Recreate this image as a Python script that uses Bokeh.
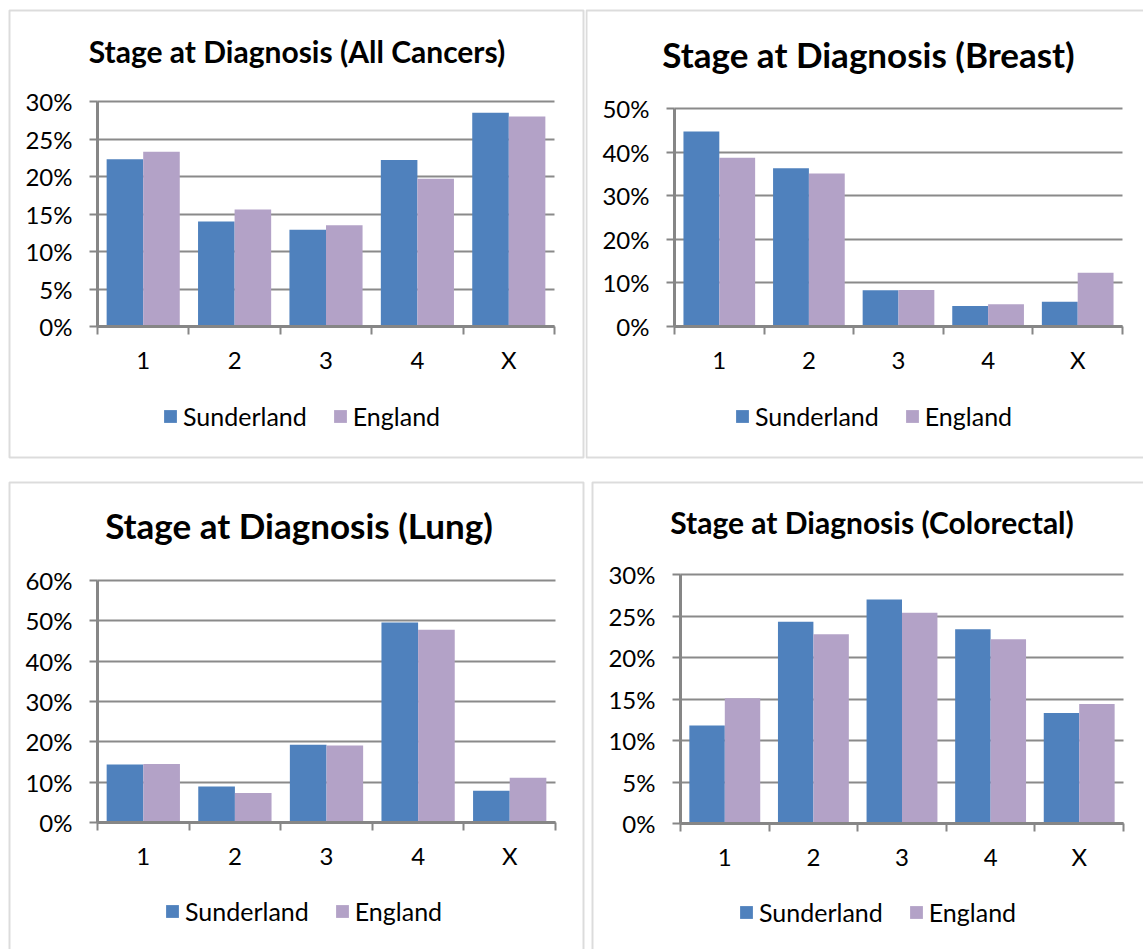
from bokeh.plotting import figure
from bokeh.layouts import column, row
from bokeh.models import (ColumnDataSource, Range1d, FixedTicker, PrintfTickFormatter,
                          Label, BoxAnnotation, Legend, LegendItem)
from bokeh.transform import dodge
from bokeh.embed import file_html
from bokeh.resources import INLINE

# ---- data (percent of diagnoses by stage) ----
stages = ["1", "2", "3", "4", "X"]
series_names = ["Sunderland", "England"]

all_sunderland = [22.3, 14.0, 12.9, 22.2, 28.5]
all_england = [23.3, 15.6, 13.5, 19.7, 28.0]

breast_sunderland = [44.7, 36.3, 8.3, 4.7, 5.7]
breast_england = [38.7, 35.1, 8.4, 5.1, 12.3]

lung_sunderland = [14.4, 8.9, 19.3, 49.6, 7.9]
lung_england = [14.5, 7.3, 19.1, 47.8, 11.1]

colorectal_sunderland = [11.8, 24.3, 27.0, 23.4, 13.3]
colorectal_england = [15.1, 22.8, 25.4, 22.2, 14.4]

titles = ["Stage at Diagnosis (All Cancers)", "Stage at Diagnosis (Breast)",
          "Stage at Diagnosis (Lung)", "Stage at Diagnosis (Colorectal)"]
y_max = [30, 50, 60, 30]
y_step = [5, 10, 10, 5]

# ---- styling ----
BLUE = "#4F81BD"
LAVENDER = "#B3A2C7"
AXIS = "#868686"
GRID = "#8a8a8a"
BORDER = "#8c8c8c"
FONT = "Lato"
LEGEND_H = 30


def make_panel(title, sund, eng, ymax, ystep, L):
    """One chart; the plot canvas is the whole chart box, axes sit at fixed data locations."""
    W, H = L["size"]
    fl, fr, ft, fb = L["frame"]          # plot-area box in canvas pixels
    n = len(stages)
    kx = (fr - fl) / n                    # pixels per category
    ky = (fb - ft) / ymax                 # pixels per percent
    p = figure(width=W, height=H, title=None,
               x_range=Range1d(-fl / kx, (W - fl) / kx),
               y_range=Range1d(-(H - fb) / ky, fb / ky),
               output_backend="svg", toolbar_location=None,
               min_border=0)
    p.outline_line_color = None
    p.background_fill_color = "white"
    p.border_fill_color = "white"

    centers = [i + 0.5 for i in range(n)]
    src = ColumnDataSource(dict(x=centers, sund=sund, eng=eng))
    r1 = p.vbar(x=dodge("x", -0.2), top="sund", width=0.4, source=src,
                fill_color=BLUE, line_color=None)
    r2 = p.vbar(x=dodge("x", 0.2), top="eng", width=0.4, source=src,
                fill_color=LAVENDER, line_color=None)

    # value axis
    yt = FixedTicker(ticks=list(range(0, ymax + 1, ystep)), minor_ticks=[])
    ya = p.yaxis[0]
    ya.fixed_location = 0
    ya.bounds = (0, ymax)
    ya.ticker = yt
    ya.formatter = PrintfTickFormatter(format="%d%%")
    ya.axis_line_color = AXIS
    ya.axis_line_width = 3
    ya.major_tick_line_color = AXIS
    ya.major_tick_line_width = 2
    ya.major_tick_out = 8
    ya.major_tick_in = 0
    ya.minor_tick_line_color = None
    ya.major_label_standoff = 17
    ya.major_label_text_font = FONT
    ya.major_label_text_font_size = "24px"
    ya.major_label_text_color = "black"

    # stage axis: labels at group centres, tick marks between groups
    xt = FixedTicker(ticks=centers, minor_ticks=list(range(n + 1)))
    xa = p.xaxis[0]
    xa.fixed_location = 0
    xa.bounds = (0, n)
    xa.ticker = xt
    xa.major_label_overrides = {c: s for c, s in zip(centers, stages)}
    xa.axis_line_color = AXIS
    xa.axis_line_width = 3
    xa.major_tick_out = 0
    xa.major_tick_in = 0
    xa.major_tick_line_color = None
    xa.minor_tick_line_color = AXIS
    xa.minor_tick_line_width = 2
    xa.minor_tick_out = 8
    xa.minor_tick_in = 0
    xa.major_label_standoff = 10
    xa.major_label_text_font = FONT
    xa.major_label_text_font_size = "24px"
    xa.major_label_text_color = "black"

    p.xgrid.visible = False
    p.ygrid.ticker = yt
    p.ygrid.bounds = (0, ymax)
    p.ygrid.cross_bounds = (0, n)
    p.ygrid.grid_line_color = GRID
    p.ygrid.grid_line_width = 2

    # chart title
    tx, ty = L["title_xy"]
    p.add_layout(Label(x=tx, y=H - ty, x_units="screen", y_units="screen",
                       text=title, text_align="center", text_baseline="middle",
                       text_font=FONT, text_font_style="bold",
                       text_font_size=L["title_size"], text_color="black"))

    # legend under the stage axis
    lx, lcy = L["legend_xy"]
    legend = Legend(items=[LegendItem(label=series_names[0], renderers=[r1]),
                           LegendItem(label=series_names[1], renderers=[r2])],
                    orientation="horizontal",
                    location=(lx, H - (lcy + LEGEND_H / 2)),
                    glyph_width=16, glyph_height=16, label_standoff=5, spacing=25,
                    padding=0, margin=0, border_line_color=None,
                    background_fill_alpha=0,
                    label_text_font=FONT, label_text_font_size="25px",
                    label_text_color="black")
    p.add_layout(legend)

    # chart-area border
    bl, bt, br, bb = L["border"]
    p.add_layout(BoxAnnotation(left=bl, right=br, top=H - bt, bottom=H - bb,
                               left_units="screen", right_units="screen",
                               top_units="screen", bottom_units="screen",
                               fill_alpha=0, line_color=BORDER, line_width=2,
                               level="overlay"))
    return p


layouts = [
    dict(size=(585, 469), frame=(97, 554, 101, 326), title_xy=(296.5, 50),
         title_size="30px", legend_xy=(162, 416), border=(9, 10, 583, 457)),
    dict(size=(558, 469), frame=(89, 537, 108, 326), title_xy=(283, 53),
         title_size="35px", legend_xy=(149, 416), border=(1, 10, 620, 457)),
    dict(size=(588, 480), frame=(97, 555, 111, 353), title_xy=(298.5, 55),
         title_size="35px", legend_xy=(164, 442), border=(9, 13, 583, 540)),
    dict(size=(555, 480), frame=(92, 535, 105, 354), title_xy=(283.5, 52),
         title_size="30px", legend_xy=(150, 443), border=(4, 13, 620, 540)),
]

series = [(all_sunderland, all_england), (breast_sunderland, breast_england),
          (lung_sunderland, lung_england), (colorectal_sunderland, colorectal_england)]

panels = [make_panel(t, s, e, m, st, L)
          for t, (s, e), m, st, L in zip(titles, series, y_max, y_step, layouts)]

page = column(row(panels[0], panels[1]), row(panels[2], panels[3]))

open("out.html", "w").write(file_html(page, INLINE))
